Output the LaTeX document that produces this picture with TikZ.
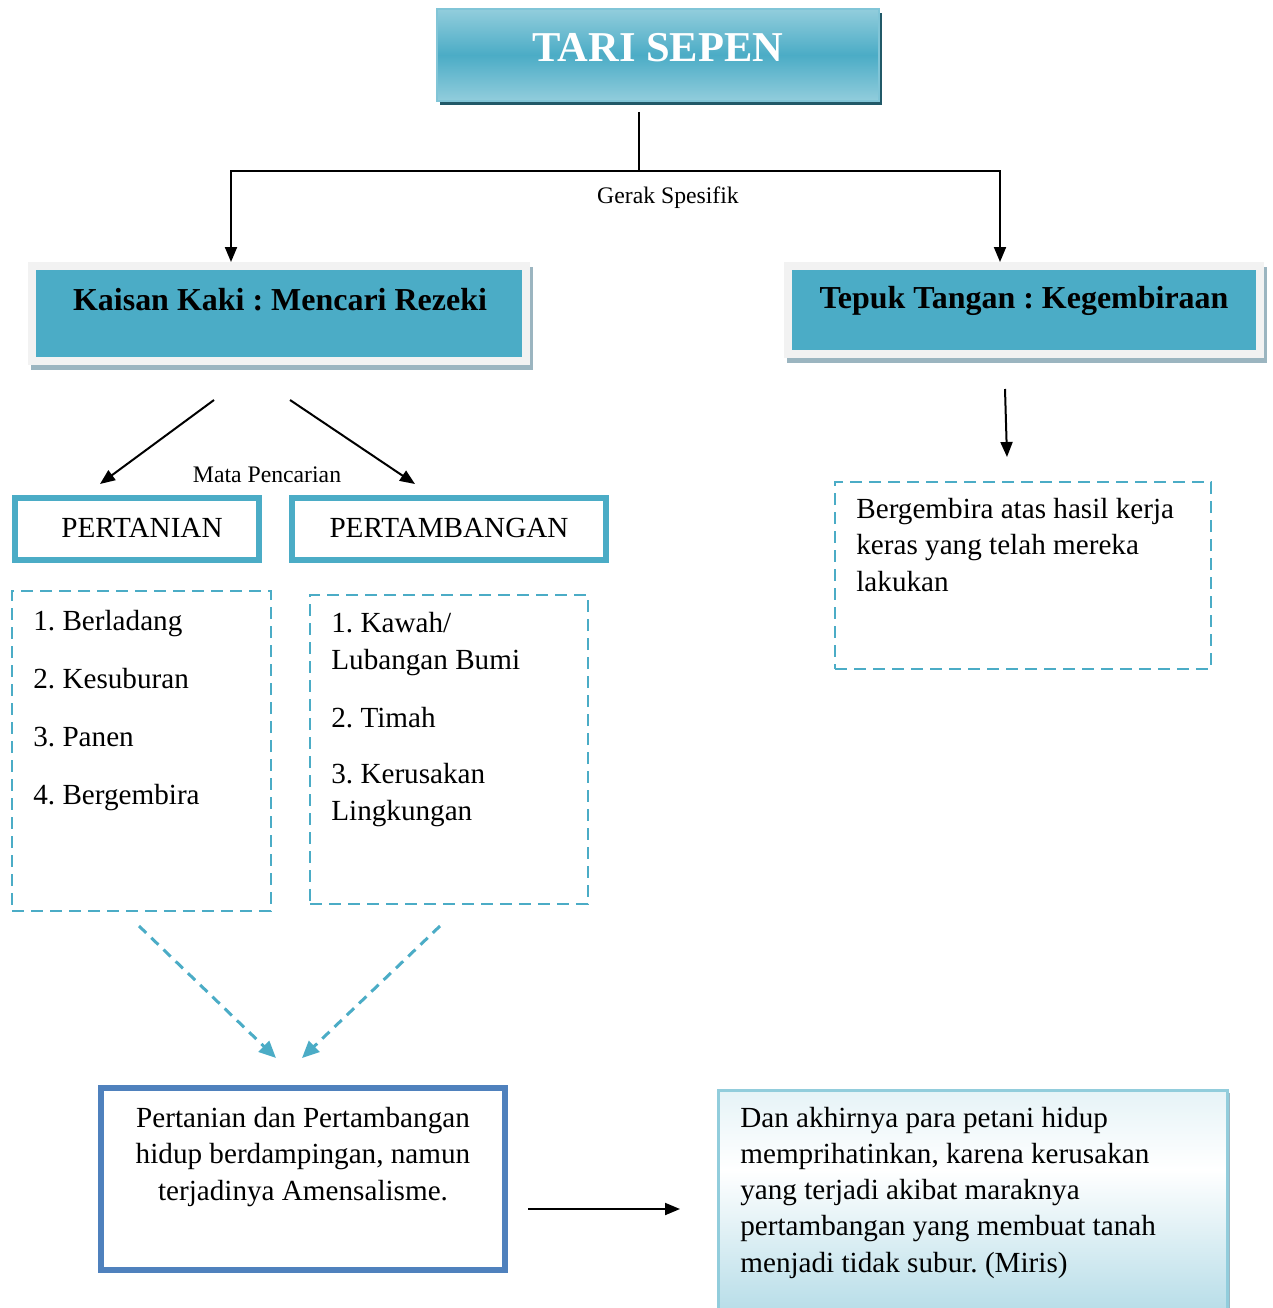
\documentclass[tikz,border=0pt]{standalone}
\usepackage{fontspec}
\setmainfont{Liberation Serif}
\frenchspacing
\usetikzlibrary{arrows.meta,shadows,positioning}
\definecolor{teal5}{HTML}{4BACC6}
\definecolor{teallight}{HTML}{92CDDC}
\definecolor{tealdark}{HTML}{215968}
\definecolor{framegray}{HTML}{F2F2F2}
\definecolor{shadegray}{HTML}{9BB5C0}
\definecolor{boxblue}{HTML}{4F81BD}
\definecolor{paleblue}{HTML}{B7DDE8}
\pgfdeclareverticalshading{mirisfade}{100bp}{color(0bp)=(paleblue); color(25bp)=(paleblue); color(57bp)=(white); color(75bp)=(paleblue!35); color(100bp)=(paleblue!35)}

\begin{document}
\begin{tikzpicture}[x=0.02cm, y=-0.02cm]
\tikzstyle{every node}=[inner sep=0pt, font=\fontsize{16.6}{20.5}\selectfont]
\tikzstyle{small}=[font=\fontsize{13.5}{16}\selectfont]
\tikzstyle{head}=[font=\fontsize{18.2}{22}\selectfont\bfseries]
\tikzstyle{titlebox}=[draw=teal5!70, line width=0.04cm, top color=teallight, bottom color=teallight, middle color=teal5, drop shadow={shadow xshift=0.06cm, shadow yshift=-0.08cm, fill=tealdark, opacity=1}]
\tikzstyle{framebox}=[draw=framegray, line width=0.16cm, fill=teal5, drop shadow={shadow xshift=0.06cm, shadow yshift=-0.1cm, draw=shadegray, line width=0.16cm, fill=shadegray, opacity=1}]
\tikzstyle{pilarbox}=[draw=teal5, line width=0.12cm]
\tikzstyle{dashbox}=[draw=teal5, line width=0.05cm, dash pattern=on 0.24cm off 0.14cm]
\tikzstyle{endbox}=[draw=boxblue, line width=0.12cm]
\tikzstyle{mirisbox}=[draw=teallight, line width=0.06cm, shading=mirisfade, drop shadow={shadow xshift=0.05cm, shadow yshift=-0.05cm, fill=shadegray, opacity=1}]
\tikzstyle{link}=[line width=0.04cm, -{Triangle[length=0.3cm, width=0.24cm]}]
\tikzstyle{dashlink}=[draw=teal5, line width=0.06cm, dash pattern=on 0.2cm off 0.14cm, -{Triangle[length=0.34cm, width=0.3cm]}]
\useasboundingbox (0,0) rectangle (1273,1308);
\clip (0,0) rectangle (1273,1308);

\node[titlebox, minimum width=8.84cm, minimum height=1.84cm] (tari) at (658,55) {};
\node[head, font=\fontsize{24.2}{28}\selectfont\bfseries, text=white, anchor=base] (taritext) at (658,62) {TARI SEPEN};

\node[framebox, minimum width=9.88cm, minimum height=1.9cm] (kaisan) at (279,313.5) {};
\node[head, anchor=base] (kaisantext) at (280,310) {Kaisan Kaki : Mencari Rezeki};
\node[framebox, minimum width=9.44cm, minimum height=1.76cm] (tepuk) at (1024,310) {};
\node[head, anchor=base] (tepuktext) at (1024,308) {Tepuk Tangan : Kegembiraan};

\coordinate (trunk) at (639,112);
\coordinate (fork) at (639,171);
\coordinate (forkL) at (231,171);
\coordinate (forkR) at (1000,171);
\draw[line width=0.04cm] (trunk) -- (fork);
\draw[link] (fork) -| (kaisan.north -| forkL);
\draw[link] (fork) -| (tepuk.north -| forkR);
\node[small, anchor=base] (gerak) at (668,203) {Gerak Spesifik};

\node[pilarbox, minimum width=4.88cm, minimum height=1.23cm] (tani) at (137,529) {};
\node[anchor=base] (tanitext) at (142,537) {PERTANIAN};
\node[pilarbox, minimum width=6.28cm, minimum height=1.23cm] (tambang) at (449,529) {};
\node[anchor=base] (tambangtext) at (449,537) {PERTAMBANGAN};

\coordinate (mpL) at (214,400);
\coordinate (mpR) at (290,400);
\coordinate (tanL) at (100,484);
\coordinate (tamR) at (415,484);
\draw[link] (mpL) -- (tanL);
\draw[link] (mpR) -- (tamR);
\node[small, anchor=base] (mata) at (267,482) {Mata Pencarian};

\node[dashbox, minimum width=5.18cm, minimum height=6.4cm] (listtani) at (141.5,751) {};
\node[anchor=base west] (tani1) at (33,630) {1. Berladang};
\node[anchor=base west] (tani2) at (33,688) {2. Kesuburan};
\node[anchor=base west] (tani3) at (33,746) {3. Panen};
\node[anchor=base west] (tani4) at (33,804) {4. Bergembira};

\node[dashbox, minimum width=5.56cm, minimum height=6.18cm] (listtambang) at (449,749.5) {};
\node[anchor=base west, align=left] (tambang1) at (331,669) {1. Kawah/\\Lubangan Bumi};
\node[anchor=base west] (tambang2) at (331,727) {2. Timah};
\node[anchor=base west, align=left] (tambang3) at (331,820) {3. Kerusakan\\Lingkungan};

\coordinate (joyA) at (1005,389);
\coordinate (joyB) at (1007,457);
\draw[link] (joyA) -- (joyB);
\node[dashbox, minimum width=7.52cm, minimum height=3.74cm] (joy) at (1023,575.5) {};
\node[anchor=base west, align=left] (joytext) at (856,591) {Bergembira atas hasil kerja\\keras yang telah mereka\\lakukan};

\coordinate (fromTani) at (139,926);
\coordinate (toEndL) at (276,1058);
\coordinate (fromTambang) at (440,926);
\coordinate (toEndR) at (302,1058);
\draw[dashlink] (fromTani) -- (toEndL);
\draw[dashlink] (fromTambang) -- (toEndR);

\node[endbox, minimum width=8.08cm, minimum height=3.64cm] (amens) at (303,1179) {};
\node[anchor=base, align=center] (amenstext) at (303,1200) {Pertanian dan Pertambangan\\hidup berdampingan, namun\\terjadinya Amensalisme.};

\coordinate (endA) at (528,1209);
\coordinate (endB) at (680,1209);
\draw[link] (endA) -- (endB);

\node[mirisbox, minimum width=10.2cm, minimum height=4.44cm] (miris) at (973,1201) {};
\node[anchor=base west, align=left] (miristext) at (740,1272) {Dan akhirnya para petani hidup\\memprihatinkan, karena kerusakan\\yang terjadi akibat maraknya\\pertambangan yang membuat tanah\\menjadi tidak subur. (Miris)};
\end{tikzpicture}
\end{document}
